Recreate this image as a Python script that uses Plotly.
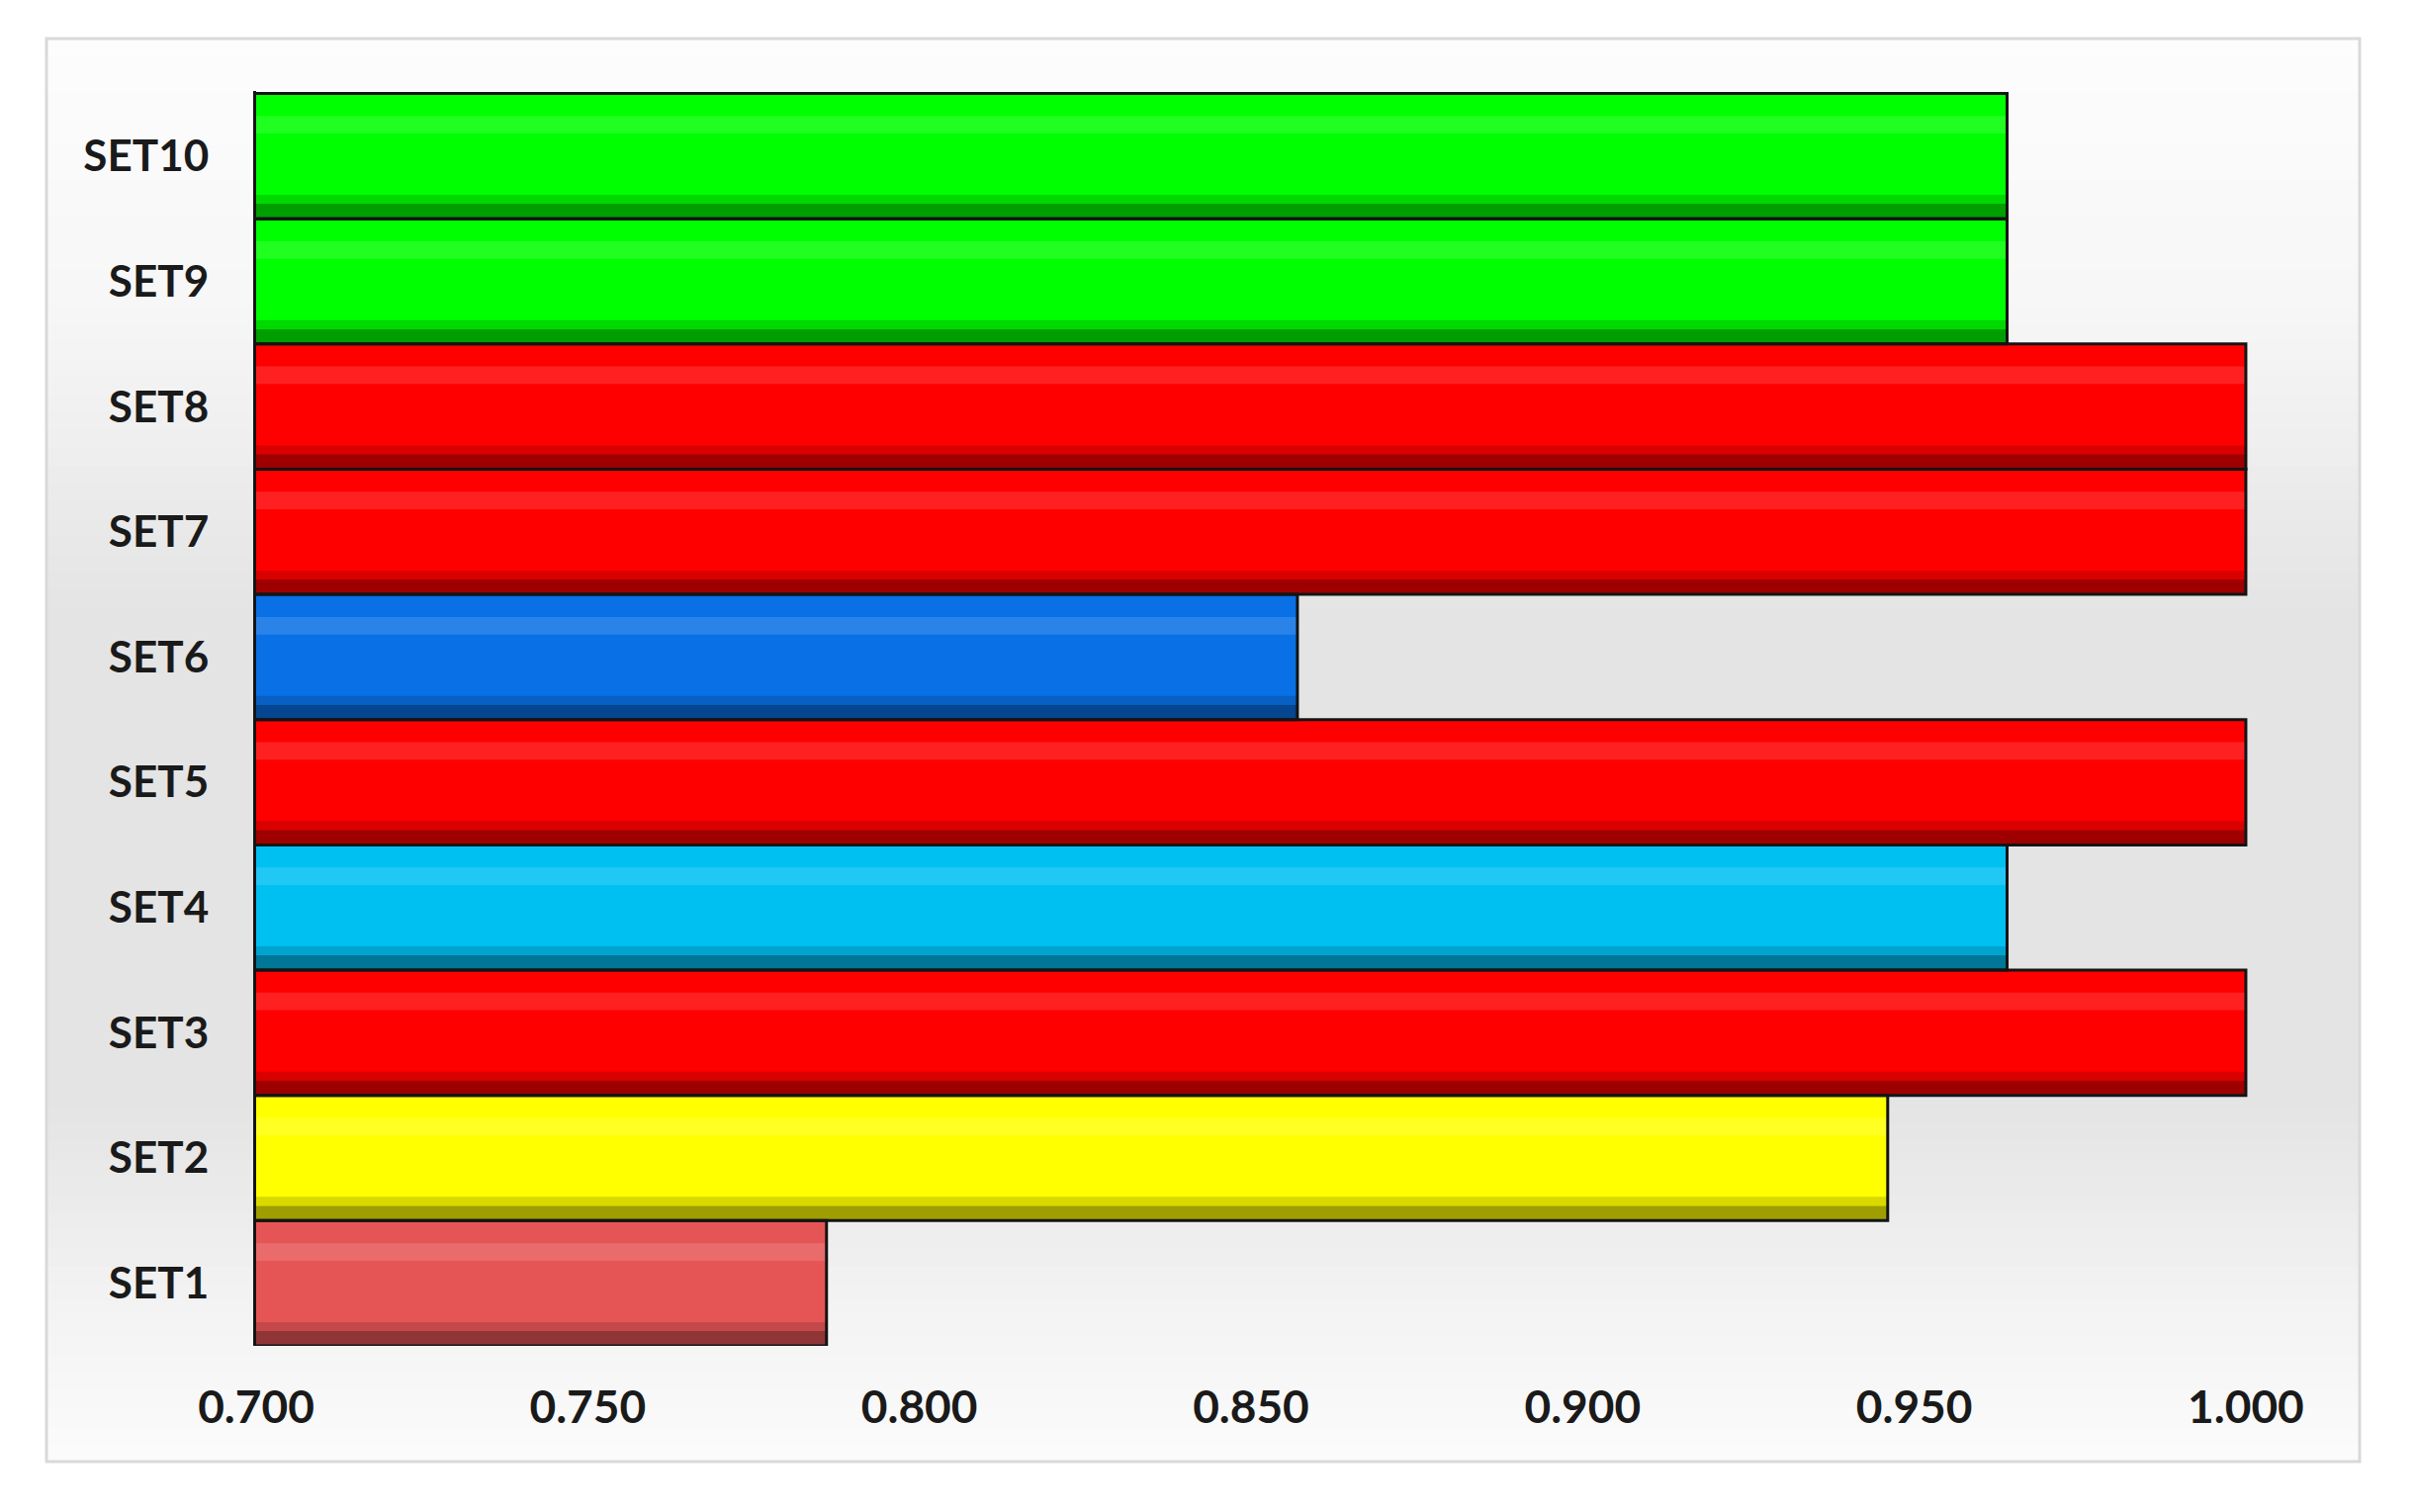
import plotly.graph_objects as go

# values
sets = ["SET1", "SET2", "SET3", "SET4", "SET5", "SET6", "SET7", "SET8", "SET9", "SET10"]
scores = [0.786, 0.946, 1.000, 0.964, 1.000, 0.857, 1.000, 1.000, 0.964, 0.964]
x_ticks = [0.700, 0.750, 0.800, 0.850, 0.900, 0.950, 1.000]

bar_colors = ["#e65556", "#ffff00", "#ff0000", "#00c0f2", "#ff0000",
              "#0a70e6", "#ff0000", "#ff0000", "#00ff00", "#00ff00"]


def mix(hex_col, target, f):
    h = hex_col.lstrip("#")
    rgb = [int(h[i:i + 2], 16) for i in (0, 2, 4)]
    out = [round(c + (target - c) * f) for c in rgb]
    return "rgb({},{},{})".format(*out)


# page has an 8px body margin, so the figure is a bit smaller than the window
W, H = 2436, 1521
L, T = 251, 84
pw, ph = 2022, 1269
R, B = W - L - pw, H - T - ph

fig = go.Figure()

# base bar
fig.add_trace(go.Bar(x=scores, y=sets, orientation="h", width=1.0,
                     marker=dict(color=bar_colors, line=dict(width=0)),
                     hoverinfo="x+y"))
# bottom bevel shade
fig.add_trace(go.Bar(x=scores, y=sets, orientation="h", width=0.12, offset=-0.5,
                     marker=dict(color=[mix(c, 0, 0.38) for c in bar_colors], line=dict(width=0)),
                     hoverinfo="skip"))
fig.add_trace(go.Bar(x=scores, y=sets, orientation="h", width=0.07, offset=-0.38,
                     marker=dict(color=[mix(c, 0, 0.15) for c in bar_colors], line=dict(width=0)),
                     hoverinfo="skip"))
# top highlight
fig.add_trace(go.Bar(x=scores, y=sets, orientation="h", width=0.14, offset=0.18,
                     marker=dict(color=[mix(c, 255, 0.13) for c in bar_colors], line=dict(width=0)),
                     hoverinfo="skip"))
# outline
fig.add_trace(go.Bar(x=scores, y=sets, orientation="h", width=1.0,
                     marker=dict(color="rgba(0,0,0,0)", line=dict(width=3, color="#141414")),
                     hoverinfo="skip"))

# background frame with vertical gradient (screen px of the frame -> paper coords)
px0, py1 = L + 8, T + 8 + ph
fx0, fx1 = (47 - px0) / pw, (2386 - px0) / pw
fy1, fy0 = (py1 - 39) / ph, (py1 - 1478) / ph
stops = [(0.0, 253), (0.2, 246), (0.4, 228), (0.75, 228), (0.88, 242), (1.0, 252)]
n = 80
shapes = []
for i in range(n):
    t = (i + 0.5) / n
    for (a, ca), (b, cb) in zip(stops[:-1], stops[1:]):
        if a <= t <= b:
            g = round(ca + (cb - ca) * (t - a) / (b - a))
            break
    y_top = fy1 - (fy1 - fy0) * i / n
    y_bot = fy1 - (fy1 - fy0) * (i + 1) / n
    shapes.append(dict(type="rect", xref="paper", yref="paper", layer="below",
                       x0=fx0, x1=fx1, y0=y_bot - 0.001, y1=y_top,
                       fillcolor="rgb({0},{0},{0})".format(g), line=dict(width=0)))
shapes.append(dict(type="rect", xref="paper", yref="paper", layer="below",
                   x0=fx0, x1=fx1, y0=fy0, y1=fy1,
                   fillcolor="rgba(0,0,0,0)", line=dict(width=3, color="#d9d9d9")))

fig.update_layout(
    width=W, height=H,
    margin=dict(l=L, r=R, t=T, b=B),
    barmode="overlay",
    showlegend=False,
    paper_bgcolor="white",
    plot_bgcolor="rgba(0,0,0,0)",
    shapes=shapes,
)
fig.update_xaxes(range=[0.7, 1.0015], tickvals=x_ticks, tickformat=".3f",
                 showgrid=False, zeroline=False, showline=False,
                 ticks="outside", ticklen=22, tickcolor="rgba(0,0,0,0)",
                 tickfont=dict(family="Lato", size=46, color="#1a1a1a", weight="bold"))
fig.update_yaxes(range=[-0.5, 9.52], showgrid=False, zeroline=False,
                 showline=True, linecolor="#141414", linewidth=3,
                 ticks="outside", ticklen=36, tickcolor="rgba(0,0,0,0)",
                 tickfont=dict(family="Lato", size=44, color="#1a1a1a", weight="bold"))

fig.write_html("out.html")
